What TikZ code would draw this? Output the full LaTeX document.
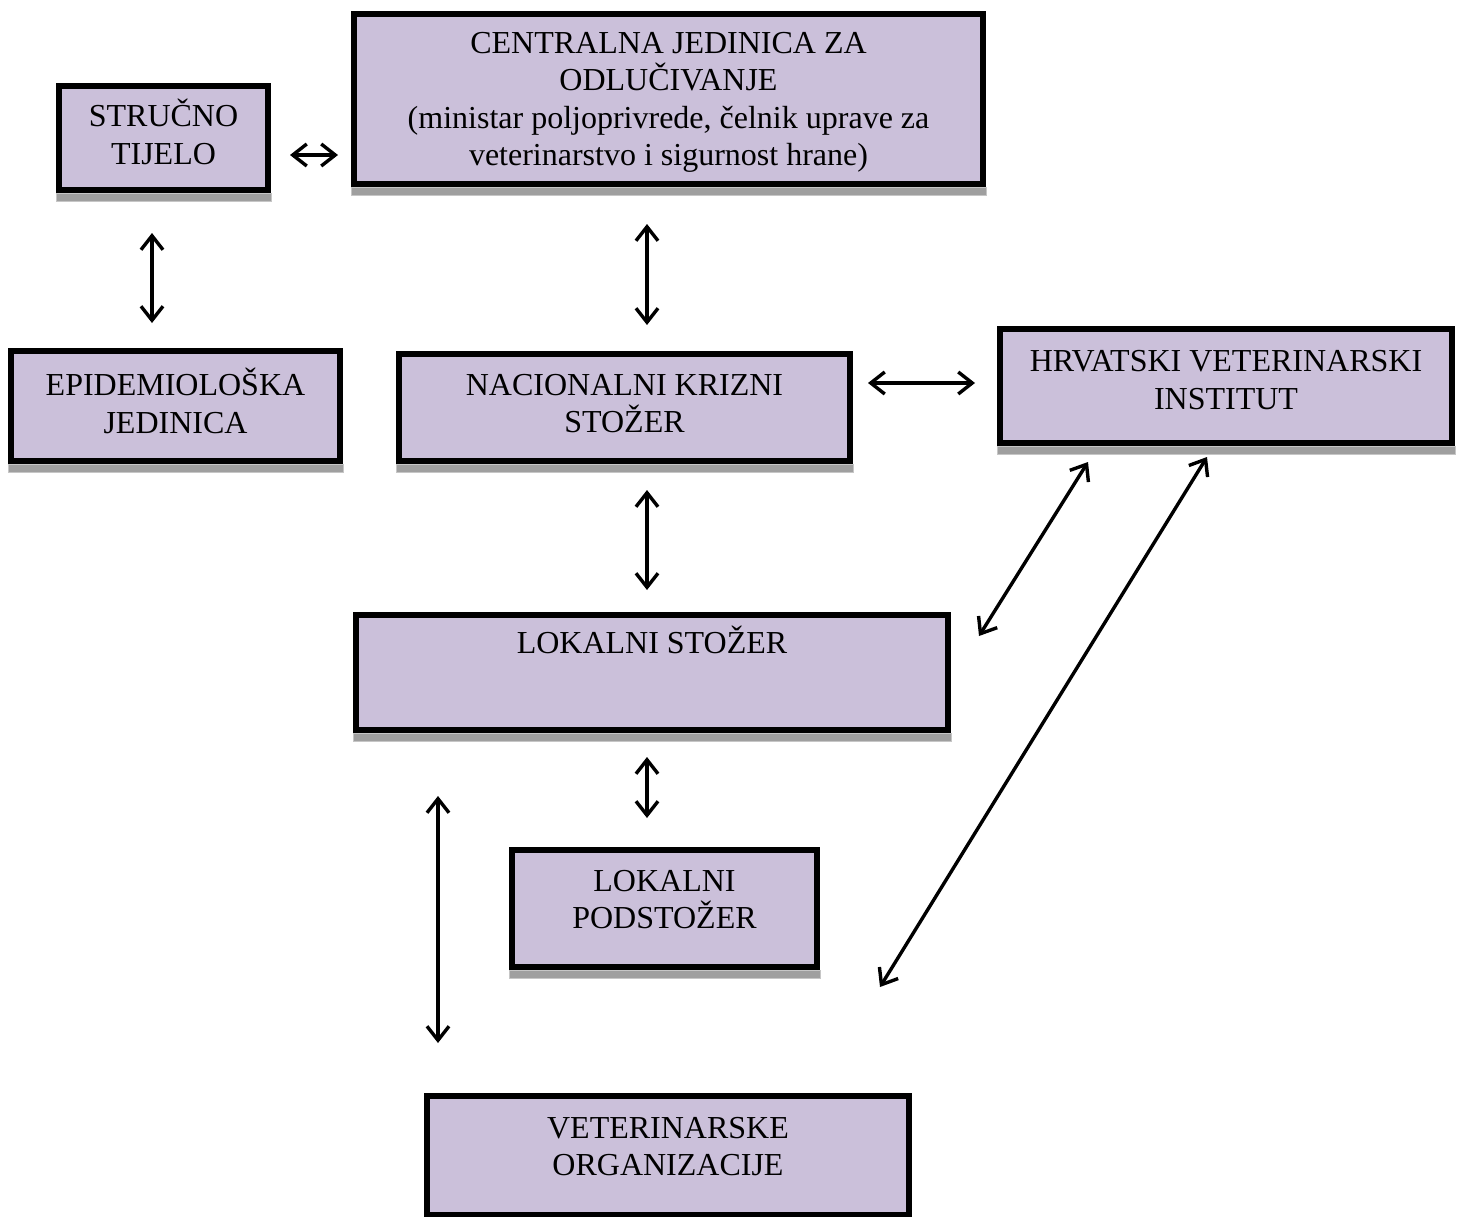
\documentclass[tikz,border=0pt]{standalone}
\usepackage{fontspec}
\setmainfont{Liberation Serif}
\usetikzlibrary{arrows.meta}

\definecolor{lavanda}{RGB}{203,192,218}

\begin{document}
\begin{tikzpicture}[x=0.5pt,y=-0.5pt,
  okvir/.style={draw=black,line width=3pt,fill=lavanda,align=center,font=\fontsize{16}{18.75}\selectfont},
  veza/.style={{Straight Barb[length=7pt,width=11pt]}-{Straight Barb[length=7pt,width=11pt]},line width=1.7pt},
  sjena/.style={fill=gray!75,draw=gray!45,line width=0.5pt}]
\useasboundingbox (0,0) rectangle (1462,1216);

\node[okvir,minimum width=104.5pt,minimum height=52pt,text depth=6pt] (st) at (163.5,138) {STRUČNO\\TIJELO};
\node[okvir,minimum width=314.5pt,minimum height=85pt,text depth=0pt] (cj) at (668.5,99) {CENTRALNA JEDINICA ZA\\ODLUČIVANJE\\(ministar poljoprivrede, čelnik uprave za\\veterinarstvo i sigurnost hrane)};
\node[okvir,minimum width=164.5pt,minimum height=55pt,text depth=5pt] (epi) at (175.5,406) {EPIDEMIOLOŠKA\\JEDINICA};
\node[okvir,minimum width=225.5pt,minimum height=53.5pt,text depth=4pt] (nks) at (624.5,407.5) {NACIONALNI KRIZNI\\STOŽER};
\node[okvir,minimum width=226pt,minimum height=57pt,text depth=6pt] (hvi) at (1226,386) {HRVATSKI VETERINARSKI\\INSTITUT};
\node[okvir,minimum width=296pt,minimum height=57.5pt,text height=12pt,text depth=31pt] (ls) at (652,672.5) {LOKALNI STOŽER};
\node[okvir,minimum width=152.5pt,minimum height=58.5pt,text depth=9pt] (lps) at (664.5,908.5) {LOKALNI\\PODSTOŽER};
\node[okvir,minimum width=241pt,minimum height=59.5pt,text depth=9pt] (vo) at (668,1155.5) {VETERINARSKE\\ORGANIZACIJE};

\foreach \b in {st,cj,epi,nks,hvi,ls,lps}
  \draw[sjena] (\b.south west) rectangle ([yshift=-4pt]\b.south east);

\coordinate (h1) at ([xshift=-69pt,yshift=-8pt]hvi.south);
\coordinate (l1) at ([xshift=14pt,yshift=18.25pt]ls.east);
\coordinate (h2) at ([xshift=-9.5pt,yshift=-5.5pt]hvi.south);
\coordinate (slobodno) at ([xshift=30pt,yshift=-8.5pt]lps.south east);

\draw[veza,shorten <=9.5pt,shorten >=6.5pt] ([yshift=-8.5pt]st.east) -- ([yshift=-8.5pt]st.east -| cj.west);
\draw[veza,shorten <=20pt,shorten >=12.5pt] ([xshift=-5.75pt]st.south) -- ([xshift=-5.75pt]st.south |- epi.north);
\draw[veza,shorten <=18.5pt,shorten >=13pt] ([xshift=-10.75pt]cj.south) -- ([xshift=-10.75pt]cj.south |- nks.north);
\draw[veza,shorten <=7.5pt,shorten >=11pt] ([yshift=12.25pt]nks.east) -- ([yshift=12.25pt]nks.east -| hvi.west);
\draw[veza,shorten <=13pt,shorten >=11pt] ([xshift=11.25pt]nks.south) -- ([xshift=11.25pt]nks.south |- ls.north);
\draw[veza,shorten <=12pt,shorten >=14.5pt] ([xshift=-2.5pt]ls.south) -- ([xshift=-2.5pt]ls.south |- lps.north);
\draw[veza,shorten <=31.5pt,shorten >=25pt] ([xshift=42.5pt]ls.south west) -- ([xshift=42.5pt]ls.south west |- vo.north);
\draw[veza] (h1) -- (l1);
\draw[veza] (h2) -- (slobodno);
\end{tikzpicture}
\end{document}
